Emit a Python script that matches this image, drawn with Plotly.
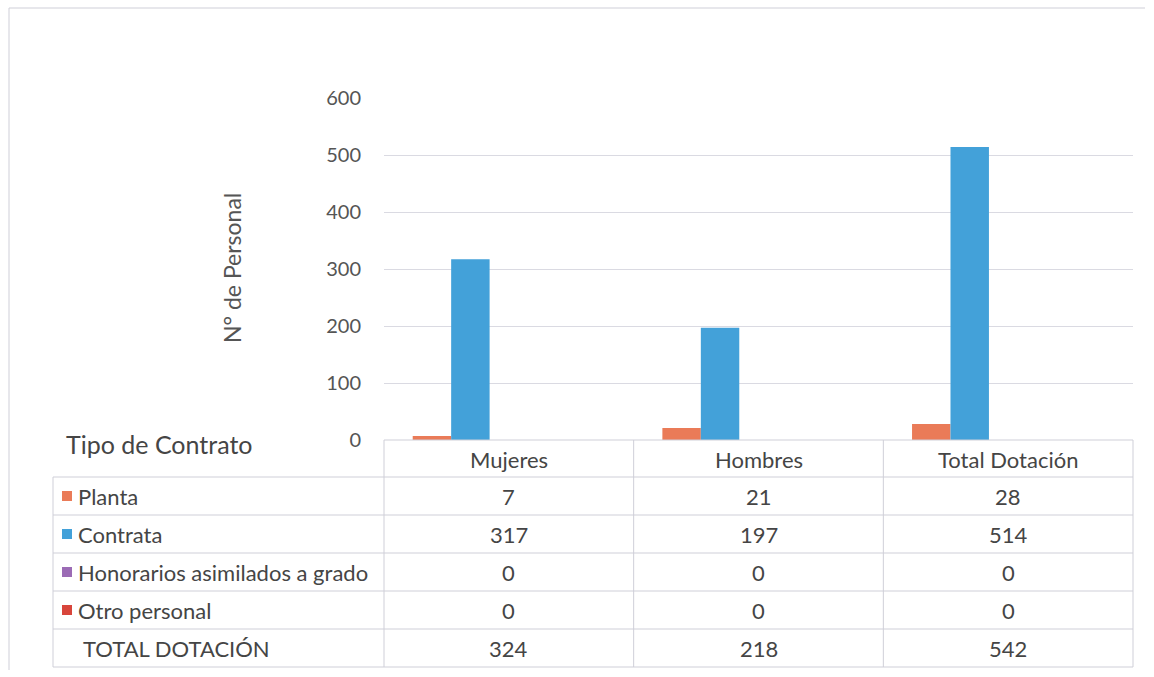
import plotly.graph_objects as go

# Dotación de personal por tipo de contrato
categorias = ["Mujeres", "Hombres", "Total Dotación"]
series = ["Planta", "Contrata", "Honorarios asimilados a grado", "Otro personal", "TOTAL DOTACIÓN"]
planta = [7, 21, 28]
contrata = [317, 197, 514]
honorarios = [0, 0, 0]
otro = [0, 0, 0]
total = [324, 218, 542]
colores = ["#EA7B58", "#43A1D9", "#9B6BB5", "#D8453B", "rgba(0,0,0,0)"]
valores = [planta, contrata, honorarios, otro, total]

W, H = 1154, 677
PL, PR, PT, PB = 384, 1133, 98, 440  # plot area in pixels
FONT = "Lato, Carlito, Calibri, sans-serif"
TXT = "#454545"
LINE = "#cfcfd8"
FS = 22


def px(x):
    return (x - PL) / (PR - PL)


def py(y):
    return (PB - y) / (PB - PT)


fig = go.Figure()
for nombre, vals, col in zip(series, valores, colores):
    fig.add_trace(go.Bar(x=categorias, y=vals, name=nombre, marker_color=col,
                         marker_line_width=0, showlegend=False, hoverinfo="x+y+name"))

fig.update_layout(
    width=W, height=H,
    margin=dict(l=PL, r=W - PR, t=PT, b=H - PB),
    paper_bgcolor="white", plot_bgcolor="white",
    barmode="group", bargap=0.23, bargroupgap=0,
    font=dict(family=FONT, color=TXT),
    xaxis=dict(showticklabels=False, showgrid=False, zeroline=False, showline=False, ticks=""),
    yaxis=dict(range=[0, 600], dtick=100, showgrid=True, gridcolor="#dadae2", gridwidth=1,
               zeroline=False, showline=False, ticks="", ticklabelstandoff=22,
               tickfont=dict(size=20, color="#555555", family=FONT)),
)

shapes = []


def hline(x0, x1, y):
    shapes.append(dict(type="line", xref="paper", yref="paper", x0=px(x0), x1=px(x1),
                       y0=py(y), y1=py(y), line=dict(color=LINE, width=1)))


def vline(x, y0, y1):
    shapes.append(dict(type="line", xref="paper", yref="paper", x0=px(x), x1=px(x),
                       y0=py(y0), y1=py(y1), line=dict(color=LINE, width=1)))


# outer chart frame
hline(9, 1145, 8)
vline(9, 8, 670)

# data table grid
row_h = 38
top_row = 477
n_rows = len(series)
hline(PL, PR, PB)
for i in range(n_rows + 1):
    hline(53, PR, top_row + i * row_h)
vline(53, top_row, top_row + n_rows * row_h)
col_w = (PR - PL) / len(categorias)
for j in range(len(categorias) + 1):
    vline(PL + j * col_w, PB, top_row + n_rows * row_h)

annotations = []
annotations.append(dict(text="N° de Personal", xref="paper", yref="paper", x=px(232), y=py(268),
                        xanchor="center", yanchor="middle", textangle=-90, showarrow=False,
                        font=dict(size=23, color="#555555", family=FONT)))
annotations.append(dict(text="Tipo de Contrato", xref="paper", yref="paper", x=px(64), y=py(444),
                        xanchor="left", yanchor="middle", showarrow=False,
                        font=dict(size=25, color=TXT, family=FONT)))
for j, cat in enumerate(categorias):
    cx = PL + (j + 0.5) * col_w
    annotations.append(dict(text=cat, xref="paper", yref="paper", x=px(cx), y=py(459),
                            xanchor="center", yanchor="middle", showarrow=False,
                            font=dict(size=FS, color=TXT, family=FONT)))
for i, (nombre, vals, col) in enumerate(zip(series, valores, colores)):
    cy = top_row + (i + 0.5) * row_h
    if i < n_rows - 1:
        shapes.append(dict(type="rect", xref="paper", yref="paper", x0=px(62), x1=px(72),
                           y0=py(cy - 5), y1=py(cy + 5), fillcolor=col, line=dict(width=0)))
        lx = 76
    else:
        lx = 81
    annotations.append(dict(text=nombre, xref="paper", yref="paper", x=px(lx), y=py(cy),
                            xanchor="left", yanchor="middle", showarrow=False,
                            font=dict(size=FS, color=TXT, family=FONT)))
    for j, v in enumerate(vals):
        cx = PL + (j + 0.5) * col_w
        annotations.append(dict(text=str(v), xref="paper", yref="paper", x=px(cx), y=py(cy),
                                xanchor="center", yanchor="middle", showarrow=False,
                                font=dict(size=FS, color=TXT, family=FONT)))

fig.update_layout(shapes=shapes, annotations=annotations)
fig.write_html("out.html")
